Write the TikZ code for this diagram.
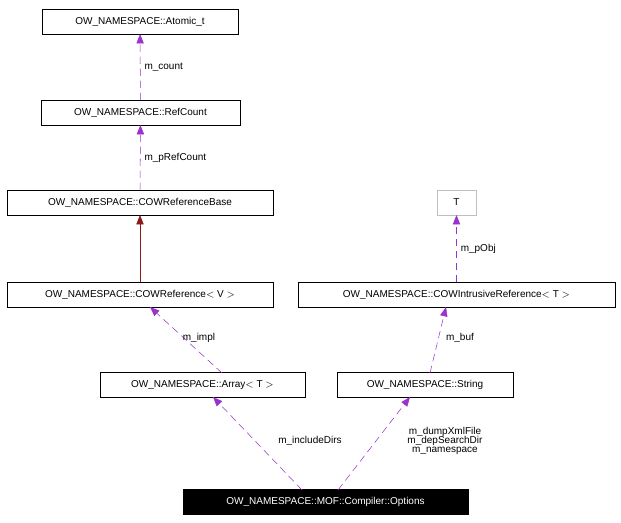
\documentclass[tikz,border=0pt]{standalone}
\usepackage{fontspec}
\setmainfont{Liberation Sans}
\usetikzlibrary{arrows.meta}
\begin{document}
\begin{tikzpicture}[x=0.75pt,y=-0.75pt,
  box/.style={draw=black,fill=white,minimum height=18.5pt,inner sep=0pt,font=\fontsize{7.5}{9}\selectfont},
  lbl/.style={font=\fontsize{7.5}{9}\selectfont,inner sep=1pt,align=center},
  use/.style={draw={rgb,255:red,154;green,50;blue,205},dash pattern=on 5.5pt off 3.5pt,-{Triangle[length=7pt,width=5.5pt,fill={rgb,255:red,154;green,50;blue,205}]}},
  inh/.style={draw={rgb,255:red,139;green,26;blue,26},-{Triangle[length=7pt,width=5.5pt,fill={rgb,255:red,139;green,26;blue,26}]}}]
\useasboundingbox (0,0) rectangle (621,523);
\node[box,minimum width=147pt] (at) at (140,21.5) {OW\_NAMESPACE::Atomic\_t};
\node[box,minimum width=149pt] (rc) at (140.5,112.5) {OW\_NAMESPACE::RefCount};
\node[box,minimum width=199.5pt] (rb) at (140,202.5) {OW\_NAMESPACE::COWReferenceBase};
\node[box,draw={rgb,255:red,191;green,191;blue,191},minimum width=29pt] (t) at (456.5,202.5) {T};
\node[box,minimum width=199.5pt] (cr) at (140,295) {OW\_NAMESPACE::COWReference$<$ V $>$};
\node[box,minimum width=238pt] (ir) at (456.5,295) {OW\_NAMESPACE::COWIntrusiveReference$<$ T $>$};
\node[box,minimum width=154pt] (ar) at (202.5,385) {OW\_NAMESPACE::Array$<$ T $>$};
\node[box,minimum width=132pt] (st) at (425,385) {OW\_NAMESPACE::String};
\node[box,fill=black,text=white,minimum width=214pt] (op) at (325.5,502) {OW\_NAMESPACE::MOF::Compiler::Options};
\draw[use] (rc) -- (at) node[lbl,midway,right=2pt] {m\_count};
\draw[use] (rb) -- (rc) node[lbl,midway,right=2pt] {m\_pRefCount};
\draw[inh] (cr) -- (rb);
\draw[use] (ir) -- (t) node[lbl,midway,right=2pt] {m\_pObj};
\coordinate (a1) at (222,373); \coordinate (a2) at (150,307);
\draw[use] (a1) -- (a2);
\node[lbl] (l1) at (199,338) {m\_impl};
\coordinate (s1) at (430,373); \coordinate (s2) at (446,307);
\draw[use] (s1) -- (s2);
\node[lbl] (l2) at (460,338) {m\_buf};
\coordinate (o1) at (302,490); \coordinate (o2) at (213,397);
\draw[use] (o1) -- (o2);
\node[lbl] (l3) at (310,441) {m\_includeDirs};
\coordinate (o3) at (338,490); \coordinate (o4) at (410,397);
\draw[use] (o3) -- (o4);
\node[lbl] (l4) at (445,441) {m\_dumpXmlFile\\[-2pt]m\_depSearchDir\\[-2pt]m\_namespace};
\end{tikzpicture}
\end{document}
